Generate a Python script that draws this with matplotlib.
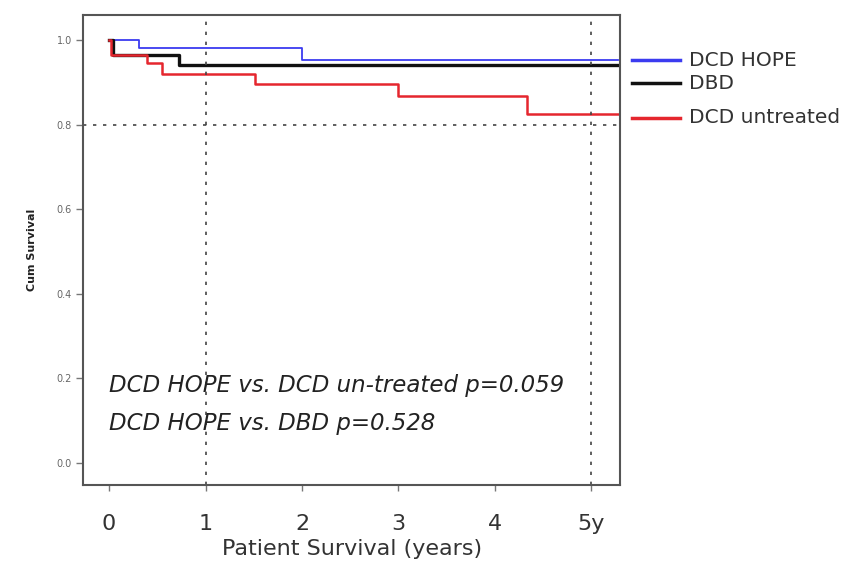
import matplotlib
matplotlib.use("Agg")
import matplotlib.pyplot as plt
from matplotlib.lines import Line2D

# Kaplan-Meier step data (years, cumulative survival)
hope_t = [0.0, 0.31, 2.0, 5.28]
hope_s = [1.0, 0.981, 0.952, 0.952]

dbd_t = [0.0, 0.04, 0.73, 5.28]
dbd_s = [1.0, 0.965, 0.940, 0.940]

untreated_t = [0.0, 0.02, 0.39, 0.55, 1.51, 3.0, 4.33, 5.28]
untreated_s = [1.0, 0.964, 0.946, 0.920, 0.896, 0.867, 0.826, 0.826]

x_ticks = [0, 1, 2, 3, 4, 5]
x_tick_labels = ["0", "1", "2", "3", "4", "5y"]
y_ticks = [0.0, 0.2, 0.4, 0.6, 0.8, 1.0]
y_tick_labels = ["0.0", "0.2", "0.4", "0.6", "0.8", "1.0"]

legend_names = ["DCD HOPE", "DBD", "DCD untreated"]
legend_colors = ["#3b3bf0", "#111111", "#e5262e"]
legend_y = [0.893, 0.852, 0.790]  # figure coords

notes = ["DCD HOPE vs. DCD un-treated p=0.059", "DCD HOPE vs. DBD p=0.528"]

fig = plt.figure(figsize=(8.65, 5.61), dpi=100)
ax = fig.add_axes([0.096, 0.135, 0.621, 0.838])

ax.step(hope_t, hope_s, where="post", color=legend_colors[0], lw=1.3)
ax.step(dbd_t, dbd_s, where="post", color=legend_colors[1], lw=2.4)
ax.step(untreated_t, untreated_s, where="post", color=legend_colors[2], lw=1.8)

# reference lines
ax.axhline(0.8, color="#444444", lw=1.2, ls=(0, (2, 4)))
ax.axvline(1, color="#444444", lw=1.2, ls=(0, (2, 4)))
ax.axvline(5, color="#444444", lw=1.2, ls=(0, (2, 4)))

ax.set_xlim(-0.27, 5.30)
ax.set_ylim(-0.053, 1.059)
ax.set_xticks(x_ticks)
ax.set_xticklabels(x_tick_labels, fontsize=16, family="DejaVu Sans", color="#333333")
ax.set_yticks(y_ticks)
ax.set_yticklabels(y_tick_labels, fontsize=7, color="#666666")
ax.tick_params(axis="x", length=4, width=1, color="#777777", pad=17)
ax.tick_params(axis="y", length=5, width=1, color="#777777", pad=3)
for sp in ax.spines.values():
    sp.set_color("#555555")
    sp.set_linewidth(1.5)

ax.set_xlabel("Patient Survival (years)", fontsize=16, family="DejaVu Sans",
              color="#333333", labelpad=3)
ax.set_ylabel("Cum Survival", fontsize=8, fontweight="bold", color="#222222", labelpad=14)

for i, txt in enumerate(notes):
    ax.text(0.0, 0.183 - i * 0.09, txt, fontsize=16.5, style="italic",
            family="DejaVu Sans", color="#222222", va="center", ha="left")

# legend outside the plot on the right
for name, col, yy in zip(legend_names, legend_colors, legend_y):
    fig.add_artist(Line2D([0.731, 0.786], [yy, yy], color=col, lw=2.5,
                          transform=fig.transFigure))
    fig.text(0.797, yy, name, fontsize=14.5, family="DejaVu Sans",
             color="#333333", va="center", ha="left")

fig.savefig("out.png", dpi=100)
